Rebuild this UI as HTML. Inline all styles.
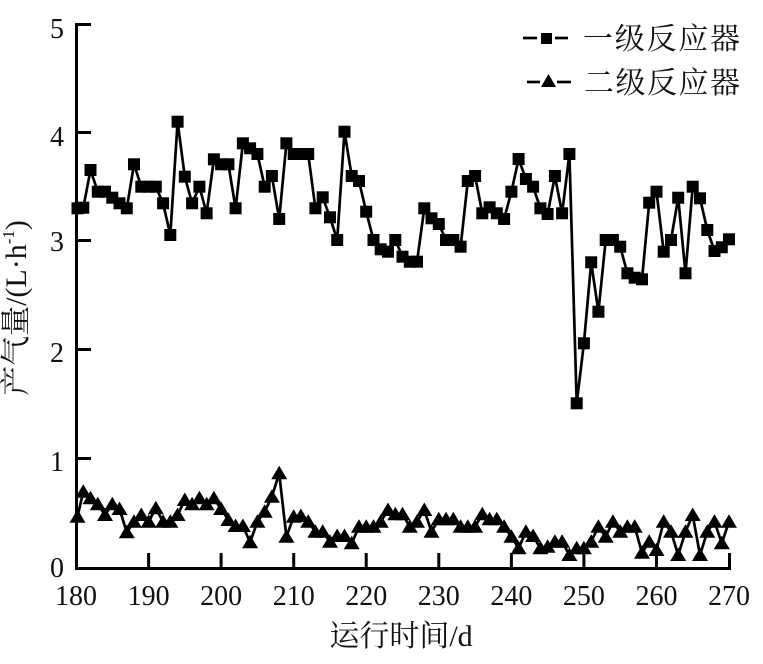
<!DOCTYPE html>
<html>
<head>
<meta charset="utf-8">
<style>
  html,body{margin:0;padding:0;background:#fff;}
  svg{display:block;}
  text{font-family:"Liberation Serif","Noto Serif CJK SC",serif;fill:#111;}
</style>
</head>
<body>
<svg width="763" height="664" viewBox="0 0 763 664" xmlns="http://www.w3.org/2000/svg">
  <defs>
    <marker id="sq" markerWidth="13" markerHeight="13" refX="6.5" refY="6.5" markerUnits="userSpaceOnUse">
      <rect x="0.5" y="0.5" width="12" height="12" fill="#000"/>
    </marker>
    <marker id="tri" markerWidth="17" markerHeight="15" refX="8.5" refY="8" markerUnits="userSpaceOnUse">
      <polygon points="8.5,0.5 0.5,14 16.5,14" fill="#000"/>
    </marker>
  </defs>

  <!-- axes -->
  <g stroke="#000" stroke-width="3" fill="none">
    <line x1="76.5" y1="23" x2="76.5" y2="569.5"/>
    <line x1="75" y1="568.5" x2="731" y2="568.5"/>
    <!-- y ticks -->
    <line x1="76" y1="24.5" x2="91" y2="24.5"/>
    <line x1="76" y1="132.5" x2="91" y2="132.5"/>
    <line x1="76" y1="240.5" x2="91" y2="240.5"/>
    <line x1="76" y1="349.5" x2="91" y2="349.5"/>
    <line x1="76" y1="458.5" x2="91" y2="458.5"/>
    <!-- x ticks -->
    <line x1="148.6" y1="568" x2="148.6" y2="553"/>
    <line x1="221.1" y1="568" x2="221.1" y2="553"/>
    <line x1="293.7" y1="568" x2="293.7" y2="553"/>
    <line x1="366.2" y1="568" x2="366.2" y2="553"/>
    <line x1="438.8" y1="568" x2="438.8" y2="553"/>
    <line x1="511.4" y1="568" x2="511.4" y2="553"/>
    <line x1="583.9" y1="568" x2="583.9" y2="553"/>
    <line x1="656.5" y1="568" x2="656.5" y2="553"/>
    <line x1="729.5" y1="568" x2="729.5" y2="553"/>
  </g>

  <!-- y tick labels -->
  <g font-size="28" text-anchor="end">
    <text x="64" y="38">5</text>
    <text x="64" y="146">4</text>
    <text x="64" y="251">3</text>
    <text x="64" y="362">2</text>
    <text x="64" y="471">1</text>
    <text x="64" y="577">0</text>
  </g>

  <!-- x tick labels -->
  <g font-size="28" text-anchor="middle">
    <text x="76" y="605">180</text>
    <text x="148.6" y="605">190</text>
    <text x="221.1" y="605">200</text>
    <text x="293.7" y="605">210</text>
    <text x="366.2" y="605">220</text>
    <text x="438.8" y="605">230</text>
    <text x="511.4" y="605">240</text>
    <text x="583.9" y="605">250</text>
    <text x="656.5" y="605">260</text>
    <text x="729" y="605">270</text>
  </g>

  <!-- axis titles -->
  <text x="401" y="646" font-size="30" text-anchor="middle">运行时间/d</text>
  <text transform="translate(26,308) rotate(-90)" font-size="30" text-anchor="middle">产气量/(L·h<tspan font-size="17" dy="-12">-1</tspan><tspan dy="12">)</tspan></text>

  <!-- series 1 -->
  <polyline fill="none" stroke="#000" stroke-width="2.7" stroke-linejoin="round"
    marker-start="url(#sq)" marker-mid="url(#sq)" marker-end="url(#sq)"
    points="77.5,208.3 83.3,207.7 90.5,170 97.8,191.7 105,191.7 112.3,197.7 119.5,203.3 126.8,208.3 134,164.3 141.3,186.7 148.6,186.7 155.8,186.7 163.1,203.3 170.3,235 177.6,121.7 184.8,176.7 192.1,203.3 199.4,186.7 206.6,213.3 213.9,159.3 221.1,164.3 228.4,164.3 235.6,208.3 242.9,143.3 250.1,148.3 257.4,154 264.7,186.7 271.9,176 279.2,219 286.4,143.3 293.7,154 300.9,154 308.2,154 315.4,208.3 322.7,197.3 330,217.3 337.2,240 344.5,131.7 351.7,176 359,181 366.2,211.7 373.5,240 380.7,249.3 388,251.7 395.3,240 402.5,256.7 409.8,261.7 417,261.7 424.3,208.3 431.5,218.3 438.8,224 446,240 453.3,240 460.6,246.7 467.8,181 475.1,176 482.3,213.3 489.6,207.3 496.8,213.3 504.1,219 511.4,191.7 518.6,159 525.9,179 533.1,186.7 540.4,208.3 547.6,214 554.9,176 562.1,213.3 569.4,154 576.7,403.3 583.9,343.3 591.2,262.3 598.4,311.7 605.7,240 612.9,240 620.2,246.7 627.4,273.3 634.7,277.7 642,279.3 649.2,202.7 656.5,191.7 663.7,251.7 671,240 678.2,197.7 685.5,273.3 692.7,186.7 700,198.3 707.3,230 714.5,251 721.8,247.3 729,239.3"/>

  <!-- series 2 -->
  <polyline fill="none" stroke="#000" stroke-width="2.7" stroke-linejoin="round"
    marker-start="url(#tri)" marker-mid="url(#tri)" marker-end="url(#tri)"
    points="77.5,516.7 83.3,491.7 90.5,498.3 97.8,504.3 105,515 112.3,504.3 119.5,509 126.8,532.3 134,521.7 141.3,515 148.6,521.7 155.8,508.3 163.1,521.7 170.3,521.7 177.6,515 184.8,500 192.1,504.3 199.4,498.3 206.6,504.3 213.9,498.3 221.1,509 228.4,520 235.6,526 242.9,526 250.1,542.3 257.4,521.7 264.7,511.7 271.9,496.7 279.2,473.3 286.4,536.7 293.7,516.7 300.9,516 308.2,521.7 315.4,531.7 322.7,531.7 330,541.7 337.2,536 344.5,536 351.7,543.3 359,526.7 366.2,526.7 373.5,526.7 380.7,521.7 388,510 395.3,514.3 402.5,514.3 409.8,526.7 417,521.7 424.3,510 431.5,531.7 438.8,519.3 446,519.3 453.3,519.3 460.6,526.7 467.8,526.7 475.1,526.7 482.3,514.3 489.6,519.3 496.8,519.3 504.1,526.7 511.4,536.7 518.6,548.3 525.9,531.7 533.1,536 540.4,548.3 547.6,546.7 554.9,541.7 562.1,541.7 569.4,555 576.7,548.3 583.9,548.3 591.2,541.7 598.4,526.7 605.7,536.7 612.9,521.7 620.2,531.7 627.4,526.7 634.7,526.7 642,552.7 649.2,541.7 656.5,550 663.7,521.7 671,531.7 678.2,555 685.5,531.7 692.7,515 700,555 707.3,531.7 714.5,521.7 721.8,543.3 729,521.7"/>

  <!-- legend -->
  <g stroke="#000" stroke-width="2.7">
    <line x1="523" y1="38" x2="537" y2="38"/>
    <line x1="555" y1="38" x2="568" y2="38"/>
    <line x1="527" y1="82" x2="540" y2="82"/>
    <line x1="557" y1="82" x2="571" y2="82"/>
  </g>
  <rect x="541" y="33" width="11" height="11" fill="#000"/>
  <polygon points="548.5,74 541,87 556,87" fill="#000"/>
  <text x="583" y="49" font-size="30" textLength="157">一级反应器</text>
  <text x="584" y="93" font-size="30" textLength="156">二级反应器</text>
</svg>
</body>
</html>
